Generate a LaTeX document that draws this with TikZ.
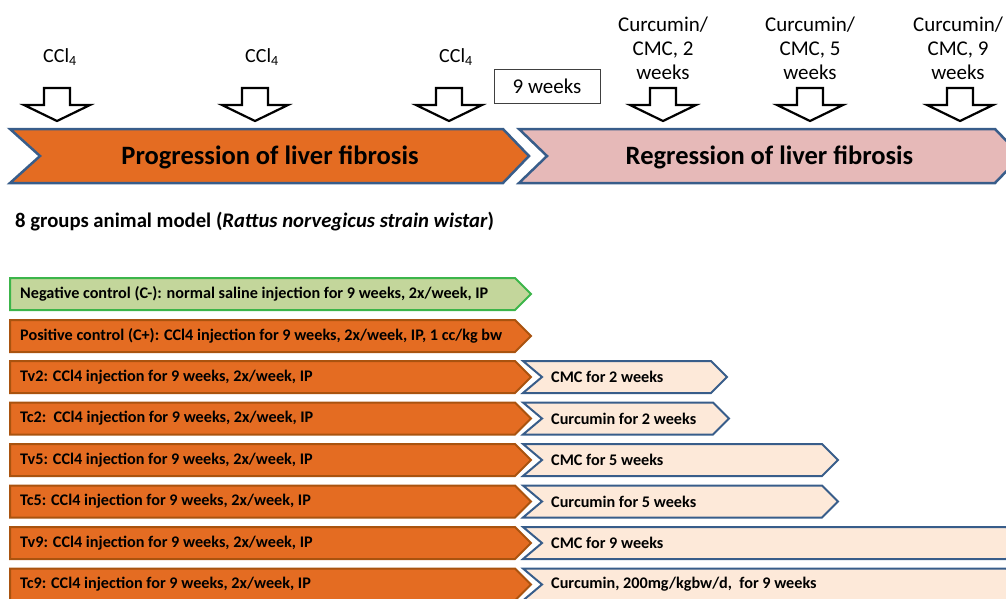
\documentclass[tikz,border=0pt]{standalone}
\usepackage{fontspec}
\setmainfont{Carlito}
\usetikzlibrary{calc}

\definecolor{fibroorange}{HTML}{E46C22}
\definecolor{orangeedge}{HTML}{A9530F}
\definecolor{shapeblue}{HTML}{385D8A}
\definecolor{regrpink}{HTML}{E6B9B8}
\definecolor{peach}{HTML}{FDE9D9}
\definecolor{salinegreen}{HTML}{C3D69B}
\definecolor{greenedge}{HTML}{3CB54A}

% flat-backed chevron: [style](left x:tip x:middle y)
\def\flatbar[#1](#2:#3:#4){\draw[#1] (#2,#4-16) -- (#3-16,#4-16) -- (#3,#4) -- (#3-16,#4+16) -- (#2,#4+16) -- cycle;}
% notched chevron: [style](left x:tip x:middle y)
\def\notchbar[#1](#2:#3:#4){\draw[#1] (#2,#4-16) -- (#3-16,#4-16) -- (#3,#4) -- (#3-16,#4+16) -- (#2,#4+16) -- (#2+19,#4) -- cycle;}
% hollow down arrow at x
\def\blockarrow(#1){\draw[hollowarrow] (#1-13,88) -- (#1+13,88) -- (#1+13,105) -- (#1+33,105) -- (#1,121) -- (#1-33,105) -- (#1-13,105) -- cycle;}

\tikzset{
  bartext/.style={anchor=west, inner sep=0pt, font=\fontsize{16.2}{19}\selectfont\bfseries},
  toplabel/.style={inner sep=0pt, align=center, font=\fontsize{21}{24}\selectfont},
  phasetext/.style={inner sep=0pt, font=\fontsize{26.5}{31}\selectfont\bfseries},
  orangebar/.style={fill=fibroorange, draw=orangeedge, line width=2pt, line join=miter},
  peachbar/.style={fill=peach, draw=shapeblue, line width=2pt, line join=miter},
  greenbar/.style={fill=salinegreen, draw=greenedge, line width=2pt, line join=miter},
  hollowarrow/.style={draw=black, fill=white, line width=2.2pt, line join=miter}
}

\begin{document}
\begin{tikzpicture}[x=1pt, y=-1pt]
  \useasboundingbox (0,0) rectangle (1006,598);

  %%%%% PHASES %%%%%
  \draw[fill=fibroorange, draw=shapeblue, line width=2.5pt, line join=miter]
    (10,129) -- (503,129) -- (529,156) -- (503,183) -- (10,183) -- (40,156) -- cycle;
  \draw[fill=regrpink, draw=shapeblue, line width=2.5pt, line join=miter]
    (519,129) -- (995,129) -- (1021,156) -- (995,183) -- (519,183) -- (547,156) -- cycle;
  \node[phasetext] (progression) at (270,157.5) {Progression of liver fibrosis};
  \node[phasetext] (regression) at (769.5,157.5) {Regression of liver fibrosis};

  %%%%% DOSES %%%%%
  \foreach \x in {57,255,449} {\blockarrow(\x)}
  \foreach \x in {663,810,960} {\blockarrow(\x)}
  \node[toplabel, font=\fontsize{20}{24}\selectfont] (ccl-a) at (60,57) {CCl\textsubscript{4}};
  \node[toplabel, font=\fontsize{20}{24}\selectfont] (ccl-b) at (262,57) {CCl\textsubscript{4}};
  \node[toplabel, font=\fontsize{20}{24}\selectfont] (ccl-c) at (456,57) {CCl\textsubscript{4}};
  \node[toplabel] (cur-two) at (663,48) {Curcumin/\\CMC, 2\\weeks};
  \node[toplabel] (cur-five) at (810,48) {Curcumin/\\CMC, 5\\weeks};
  \node[toplabel] (cur-nine) at (958,48) {Curcumin/\\CMC, 9\\weeks};
  \node[toplabel, draw=black!75, line width=0.8pt, minimum width=106, minimum height=34] (nineweeks) at (547,86) {9 weeks};

  \node[anchor=west, inner sep=0pt, font=\fontsize{20.7}{24}\selectfont\bfseries] (groups) at (15,222)
    {8 groups animal model (\textit{Rattus norvegicus strain wistar})};

  %%%%% GROUPS %%%%%
  \flatbar[greenbar](10:531:294)
  \node[bartext] (cneg) at (20,294) {Negative control (C-): normal saline injection for 9 weeks, 2x/week, IP};
  \flatbar[orangebar](10:531:336)
  \node[bartext] (cpos) at (20,336) {Positive control (C+): CCl4 injection for 9 weeks, 2x/week, IP, 1 cc/kg bw};

  \foreach \y/\grp/\ltxt/\rtxt/\xend in {
      377/tv2/{Tv2: CCl4 injection for 9 weeks, 2x/week, IP}/{CMC for 2 weeks}/727,
      418.5/tc2/{Tc2:\ \ CCl4 injection for 9 weeks, 2x/week, IP}/{Curcumin for 2 weeks}/729,
      460/tv5/{Tv5: CCl4 injection for 9 weeks, 2x/week, IP}/{CMC for 5 weeks}/838,
      501.5/tc5/{Tc5: CCl4 injection for 9 weeks, 2x/week, IP}/{Curcumin for 5 weeks}/838,
      543/tv9/{Tv9: CCl4 injection for 9 weeks, 2x/week, IP}/{CMC for 9 weeks}/1022,
      584.5/tc9/{Tc9: CCl4 injection for 9 weeks, 2x/week, IP}/{Curcumin, 200mg/kgbw/d,\ \ for 9 weeks}/1022} {
    \flatbar[orangebar](10:531:\y)
    \node[bartext] (\grp-ccl) at (20,\y) {\ltxt};
    \notchbar[peachbar](523:\xend:\y)
    \node[bartext] (\grp-treat) at (551,\y) {\rtxt};
  }
\end{tikzpicture}
\end{document}
